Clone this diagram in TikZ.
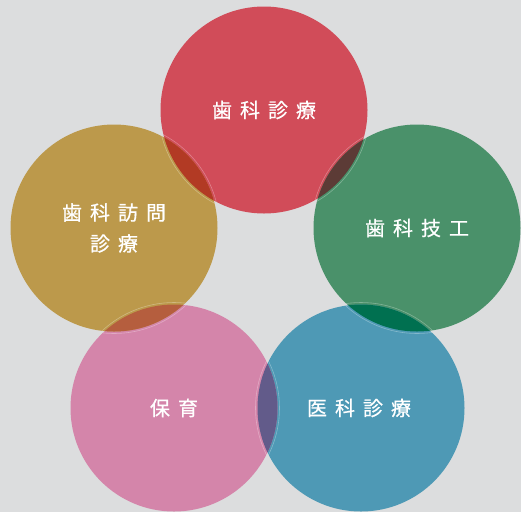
\documentclass[tikz,border=0pt]{standalone}
\usepackage{fontspec}
\usepackage{xcolor}
\newfontfamily\jpfont[FakeBold=0.6]{Noto Sans CJK JP}
\definecolor{bgcol}{RGB}{220,221,222}
\definecolor{redc}{RGB}{209,76,89}
\definecolor{greenc}{RGB}{74,145,106}
\definecolor{bluec}{RGB}{78,153,181}
\definecolor{pinkc}{RGB}{212,133,170}
\definecolor{goldc}{RGB}{188,153,75}
\definecolor{redgold}{RGB}{178,58,36}
\definecolor{redgreen}{RGB}{92,59,54}
\definecolor{greenblue}{RGB}{0,112,80}
\definecolor{bluepink}{RGB}{98,91,138}
\definecolor{pinkgold}{RGB}{181,94,62}
\newcommand\tgap{\hspace{0.4em}}

\begin{document}
\begin{tikzpicture}[
x=1pt, y=-1pt,
field/.style={
	circle, inner sep=0pt, outer sep=0pt,
	minimum size=207pt,
	text=white, align=center,
	font=\jpfont\fontsize{20}{31}\selectfont,
},
rim/.style={draw=white, draw opacity=0.3, line width=0.6pt},
]
\fill[bgcol] (0,0) rectangle (521,512);
\useasboundingbox (0,0) rectangle (521,512);

\node[field, fill=redc] (shinryo) at (264,110) {歯\tgap{}科\tgap{}診\tgap{}療};
\node[field, fill=greenc] (giko) at (417,228) {歯\tgap{}科\tgap{}技\tgap{}工};
\node[field, fill=bluec] (ika) at (361,408) {\hspace{-4pt}医\tgap{}科\tgap{}診\tgap{}療};
\node[field, fill=pinkc] (hoiku) at (174,408) {保\tgap{}育};
\node[field, fill=goldc] (homon) at (114,228) {歯\tgap{}科\tgap{}訪\tgap{}問\\診\tgap{}療};

% overlaps, with faint rims inside the other circle
\foreach \a/\b/\c in {shinryo/homon/redgold, shinryo/giko/redgreen,
    giko/ika/greenblue, ika/hoiku/bluepink, hoiku/homon/pinkgold}{
    \begin{scope}
        \clip (\a.center) circle[radius=103.5];
        \fill[\c] (\b.center) circle[radius=103.5];
        \draw[rim] (\b.center) circle[radius=105.5];
    \end{scope}
    \begin{scope}
        \clip (\b.center) circle[radius=103.5];
        \draw[rim] (\a.center) circle[radius=105.5];
    \end{scope}
}
\end{tikzpicture}
\end{document}
